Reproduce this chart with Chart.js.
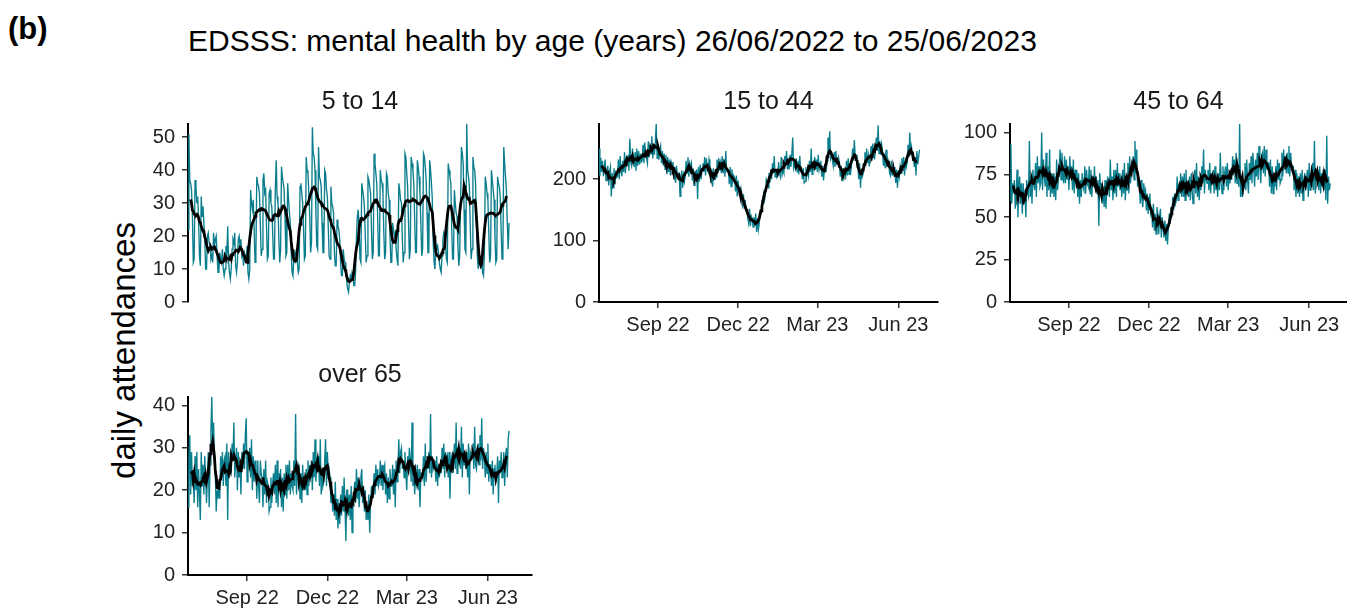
<!DOCTYPE html>
<html>
<head>
<meta charset="utf-8">
<title>EDSSS: mental health by age</title>
<script src="https://cdn.jsdelivr.net/npm/chart.js@4.4.0/dist/chart.umd.min.js"></script>
<style>
  html, body { margin: 0; padding: 0; background: #fff; overflow: hidden; }
  #page { position: relative; width: 1347px; height: 610px; font-family: "Liberation Sans", Arial, sans-serif; }
  .txt { position: absolute; white-space: nowrap; line-height: 1; }
  canvas { position: absolute; }
</style>
</head>
<body>
<div id="page">
  <div class="txt" style="left:8px; top:13px; font-size:31px; font-weight:bold; color:#000;">(b)</div>
  <div class="txt" style="left:188px; top:26px; font-size:30px; color:#000;">EDSSS: mental health by age (years) 26/06/2022 to 25/06/2023</div>
  <div class="txt" style="left:-77px; top:334px; width:400px; text-align:center; font-size:33px; color:#000; transform:rotate(-90deg);">daily attendances</div>
</div>
<script>
// age bands, one panel each
const ageGroups = ['5 to 14', '15 to 44', '45 to 64', 'over 65'];

// first day of the series, axis ticks at the start of each quarter
const startDate = '2022-06-26';
const xTickDates = ['2022-09-01', '2022-12-01', '2023-03-01', '2023-06-01'];
const xTickLabels = ['Sep 22', 'Dec 22', 'Mar 23', 'Jun 23'];

const yTicks5to14 = [0, 10, 20, 30, 40, 50];
const yTicks15to44 = [0, 100, 200];
const yTicks45to64 = [0, 25, 50, 75, 100];
const yTicksOver65 = [0, 10, 20, 30, 40];

// daily attendances, one row per week (Sun..Sat), 26/06/2022 to 25/06/2023
const daily5to14 = [
  22, 51, 37, 36, 34, 26, 12,
  13, 37, 35, 30, 32, 25, 14,
  11, 32, 26, 29, 24, 19, 10,
  10, 20, 21, 18, 17, 13, 14,
  12, 21, 17, 19, 20, 14, 9,
  9, 15, 13, 12, 16, 10, 8,
  10, 17, 14, 23, 12, 9, 7,
  10, 16, 19, 18, 21, 11, 9,
  12, 19, 20, 17, 19, 14, 15,
  11, 15, 14, 12, 17, 9, 7,
  10, 34, 30, 28, 31, 22, 12,
  15, 38, 36, 35, 33, 24, 14,
  16, 37, 39, 33, 34, 23, 13,
  14, 33, 34, 30, 29, 21, 13,
  13, 34, 43, 32, 30, 19, 12,
  16, 41, 38, 36, 34, 25, 14,
  15, 36, 31, 27, 24, 15, 9,
  8, 14, 15, 13, 16, 12, 9,
  10, 35, 36, 33, 30, 22, 13,
  14, 44, 40, 39, 33, 26, 15,
  18, 53, 45, 44, 40, 27, 17,
  16, 47, 38, 37, 35, 24, 15,
  15, 40, 39, 34, 32, 23, 14,
  13, 35, 30, 29, 27, 15, 11,
  11, 25, 23, 22, 19, 12, 8,
  8, 16, 13, 12, 10, 6, 4,
  3, 6, 8, 7, 9, 8, 5,
  5, 9, 20, 26, 28, 22, 13,
  12, 36, 34, 32, 29, 20, 12,
  14, 38, 37, 35, 33, 22, 13,
  15, 45, 42, 39, 36, 26, 14,
  14, 40, 37, 36, 33, 21, 13,
  15, 39, 38, 33, 31, 20, 12,
  12, 24, 22, 20, 21, 16, 13,
  11, 36, 34, 31, 30, 19, 12,
  15, 45, 44, 39, 35, 24, 13,
  16, 44, 42, 40, 36, 25, 15,
  15, 43, 41, 38, 33, 24, 14,
  16, 45, 44, 41, 37, 27, 15,
  15, 43, 40, 36, 31, 18, 12,
  10, 18, 16, 17, 15, 12, 10,
  9, 14, 19, 21, 20, 17, 13,
  12, 42, 40, 38, 36, 22, 13,
  13, 34, 30, 27, 26, 17, 11,
  14, 30, 47, 45, 42, 28, 16,
  15, 54, 40, 38, 35, 23, 13,
  16, 44, 41, 40, 36, 25, 14,
  10, 14, 12, 11, 13, 9, 8,
  14, 38, 36, 33, 31, 21, 12,
  14, 40, 37, 34, 31, 20, 12,
  13, 38, 36, 35, 32, 22, 13,
  15, 47, 42, 38, 34, 24, 16,
  24
];

const daily15to44 = [
  250, 205, 235, 212, 230, 205, 218,
  232, 198, 206, 222, 190, 212, 220,
  172, 210, 186, 218, 192, 214, 203,
  205, 232, 200, 238, 214, 205, 230,
  212, 244, 210, 236, 222, 240, 214,
  266, 228, 222, 250, 232, 220, 244,
  214, 250, 222, 246, 224, 242, 228,
  230, 256, 226, 260, 238, 234, 226,
  262, 236, 256, 240, 270, 234, 252,
  240, 262, 290, 234, 252, 232, 246,
  254, 226, 246, 222, 242, 216, 240,
  208, 236, 212, 232, 206, 228, 222,
  228, 200, 220, 194, 222, 206, 210,
  210, 172, 202, 214, 186, 206, 196,
  206, 230, 210, 236, 204, 226, 220,
  226, 198, 218, 190, 214, 200, 216,
  168, 220, 196, 224, 200, 216, 226,
  212, 236, 206, 234, 216, 212, 232,
  222, 194, 216, 188, 218, 200, 200,
  204, 232, 210, 234, 214, 226, 210,
  238, 210, 232, 204, 246, 214, 216,
  214, 192, 220, 188, 216, 198, 206,
  202, 180, 206, 172, 198, 184, 182,
  186, 166, 158, 176, 152, 166, 151,
  150, 136, 128, 152, 124, 140, 136,
  122, 138, 124, 144, 114, 136, 118,
  128, 148, 146, 164, 162, 176, 166,
  176, 200, 196, 186, 210, 196, 214,
  200, 226, 210, 238, 204, 214, 203,
  206, 228, 210, 204, 236, 208, 215,
  210, 238, 224, 246, 216, 228, 216,
  240, 220, 242, 268, 218, 224, 218,
  234, 212, 230, 208, 238, 216, 215,
  200, 218, 194, 196, 220, 206, 216,
  206, 230, 212, 250, 208, 226, 215,
  236, 216, 232, 212, 240, 216, 226,
  230, 204, 222, 198, 216, 212, 213,
  230, 268, 240, 278, 234, 240, 232,
  222, 244, 220, 246, 226, 230, 236,
  226, 204, 222, 198, 218, 210, 214,
  200, 230, 206, 234, 208, 222, 213,
  226, 250, 230, 264, 236, 232, 240,
  220, 200, 226, 186, 216, 204, 209,
  220, 244, 224, 250, 226, 238, 221,
  234, 254, 230, 258, 236, 234, 248,
  268, 246, 288, 242, 262, 240, 257,
  246, 222, 242, 218, 248, 226, 233,
  228, 210, 206, 230, 206, 220, 207,
  220, 194, 216, 186, 214, 204, 221,
  210, 234, 214, 236, 206, 228, 220,
  228, 256, 236, 276, 240, 252, 237,
  240, 220, 236, 206, 246, 224, 236,
  248
];

const daily45to64 = [
  60, 93, 58, 70, 64, 72, 55,
  62, 78, 50, 68, 74, 58, 70,
  52, 70, 58, 66, 50, 72, 64,
  62, 95, 62, 74, 58, 78, 70,
  66, 82, 62, 86, 70, 80, 68,
  70, 100, 66, 84, 74, 68, 88,
  62, 80, 66, 90, 62, 76, 64,
  76, 62, 74, 60, 84, 66, 72,
  80, 90, 72, 88, 76, 70, 86,
  70, 84, 72, 80, 66, 86, 74,
  80, 66, 84, 64, 78, 70, 78,
  62, 76, 58, 72, 62, 76, 68,
  66, 80, 64, 78, 70, 68, 80,
  64, 78, 62, 74, 68, 80, 66,
  74, 64, 72, 45, 76, 66, 70,
  58, 68, 56, 72, 55, 66, 74,
  70, 62, 84, 66, 74, 60, 78,
  64, 78, 62, 82, 68, 76, 66,
  74, 62, 78, 64, 82, 60, 72,
  66, 82, 64, 86, 70, 78, 80,
  86, 72, 95, 76, 90, 68, 74,
  70, 58, 72, 60, 56, 70, 64,
  66, 54, 64, 52, 62, 64, 52,
  54, 44, 58, 42, 52, 40, 56,
  52, 40, 50, 55, 38, 50, 44,
  38, 48, 36, 46, 34, 44, 52,
  46, 56, 50, 62, 54, 64, 58,
  60, 74, 60, 70, 64, 76, 62,
  74, 62, 76, 60, 78, 66, 68,
  62, 74, 60, 76, 66, 58, 74,
  78, 64, 82, 62, 74, 60, 70,
  66, 80, 70, 90, 64, 78, 72,
  70, 78, 66, 82, 64, 76, 72,
  78, 64, 80, 66, 74, 62, 76,
  66, 88, 70, 64, 80, 66, 76,
  80, 68, 82, 66, 76, 70, 78,
  72, 86, 76, 84, 70, 88, 70,
  80, 68, 105, 62, 70, 62, 66,
  68, 82, 66, 84, 72, 64, 82,
  72, 86, 70, 88, 80, 68, 84,
  74, 88, 72, 92, 80, 70, 86,
  88, 76, 92, 74, 90, 78, 82,
  82, 68, 84, 64, 80, 64, 76,
  68, 80, 66, 84, 72, 82, 70,
  72, 88, 74, 90, 78, 86, 76,
  88, 76, 92, 74, 88, 80, 80,
  80, 66, 78, 62, 76, 64, 74,
  62, 76, 64, 78, 60, 72, 76,
  66, 72, 78, 62, 82, 66, 74,
  68, 82, 66, 95, 64, 78, 74,
  78, 66, 80, 64, 76, 68, 78,
  66, 78, 60, 98, 58, 74, 66,
  70
];

const dailyOver65 = [
  16, 27, 33, 19, 29, 21, 23,
  17, 28, 20, 29, 16, 25, 19,
  13, 29, 21, 26, 19, 28, 23,
  17, 23, 29, 16, 26, 34, 42,
  30, 36, 28, 24, 15, 20, 18,
  21, 18, 28, 23, 29, 21, 27,
  28, 21, 31, 13, 29, 23, 26,
  24, 31, 27, 36, 23, 27, 30,
  20, 29, 23, 27, 19, 29, 25,
  31, 25, 33, 37, 22, 29, 27,
  30, 23, 32, 20, 28, 22, 27,
  25, 18, 27, 21, 17, 27, 24,
  23, 16, 25, 19, 27, 17, 22,
  21, 15, 16, 23, 17, 22, 24,
  19, 26, 17, 27, 16, 24, 22,
  25, 16, 23, 15, 24, 19, 26,
  18, 26, 20, 27, 19, 24, 21,
  20, 27, 21, 38, 19, 25, 26,
  25, 18, 24, 17, 26, 20, 23,
  20, 25, 19, 27, 21, 26, 23,
  27, 20, 29, 23, 32, 22, 27,
  26, 28, 21, 32, 19, 24, 21,
  22, 27, 32, 21, 29, 24, 25,
  23, 17, 21, 15, 19, 14, 22,
  13, 18, 11, 17, 12, 19, 14,
  21, 15, 23, 16, 8, 20, 20,
  14, 19, 13, 21, 10, 17, 19,
  22, 17, 25, 18, 23, 16, 20,
  23, 25, 17, 21, 15, 20, 13,
  16, 13, 19, 10, 17, 21, 18,
  20, 24, 19, 26, 21, 25, 21,
  22, 27, 21, 26, 20, 25, 26,
  19, 24, 17, 23, 18, 25, 21,
  21, 26, 19, 25, 16, 27, 22,
  25, 32, 24, 29, 30, 25, 27,
  23, 29, 24, 20, 28, 25, 30,
  27, 22, 36, 21, 26, 19, 25,
  21, 26, 20, 25, 16, 24, 24,
  23, 28, 21, 31, 22, 27, 25,
  29, 24, 38, 23, 28, 25, 26,
  27, 22, 28, 21, 26, 23, 26,
  24, 30, 25, 31, 23, 29, 27,
  28, 23, 29, 18, 27, 28, 24,
  26, 31, 25, 36, 24, 29, 28,
  30, 25, 35, 23, 31, 26, 29,
  25, 29, 23, 31, 19, 29, 28,
  29, 31, 25, 35, 26, 25, 28,
  31, 26, 33, 27, 37, 25, 30,
  28, 23, 29, 24, 31, 22, 26,
  26, 21, 27, 19, 25, 26, 22,
  23, 28, 17, 27, 24, 29, 23,
  24, 29, 21, 28, 30, 23, 32,
  34
];

// centred rolling mean window (days)
const MA_DAYS = 7;

const TEAL = '#0b7e8e';
const FONT = '"Liberation Sans", Arial, sans-serif';
const PLOT_H = 178;
const Y_AXIS_W = 60;
const X_AXIS_H = 40;
const PAD = 22;

function dayOffset(iso) {
  return Math.round((Date.parse(iso) - Date.parse(startDate)) / 864e5);
}

function rollingMean(values, n) {
  const half = Math.floor(n / 2);
  return values.map((_, i) => {
    if (i < half || i + half >= values.length) return null;
    let sum = 0;
    for (let j = i - half; j <= i + half; j++) sum += values[j];
    return sum / n;
  });
}

const xTickDays = xTickDates.map(dayOffset);

const panels = [
  { name: ageGroups[0], daily: daily5to14, yTicks: yTicks5to14, left: 188, top: 124, width: 344, xEnd: 390, xAxis: false },
  { name: ageGroups[1], daily: daily15to44, yTicks: yTicks15to44, left: 599, top: 124, width: 339, xEnd: 385, xAxis: true },
  { name: ageGroups[2], daily: daily45to64, yTicks: yTicks45to64, left: 1010, top: 124, width: 337, xEnd: 383, xAxis: true },
  { name: ageGroups[3], daily: dailyOver65, yTicks: yTicksOver65, left: 188, top: 397, width: 344, xEnd: 390, xAxis: true }
];

const page = document.getElementById('page');

panels.forEach(p => {
  const w = Y_AXIS_W + p.width + 8;
  const h = PAD + PLOT_H + (p.xAxis ? X_AXIS_H : PAD);
  const canvas = document.createElement('canvas');
  canvas.width = w;
  canvas.height = h;
  canvas.style.width = w + 'px';
  canvas.style.height = h + 'px';
  canvas.style.left = (p.left - Y_AXIS_W) + 'px';
  canvas.style.top = (p.top - PAD) + 'px';
  page.appendChild(canvas);

  // panel strip label, centred over the plot area
  const label = document.createElement('div');
  label.className = 'txt';
  label.textContent = p.name;
  label.style.fontSize = '25px';
  label.style.color = '#1a1a1a';
  label.style.left = (p.left + p.width / 2) + 'px';
  label.style.top = (p.top - 36) + 'px';
  label.style.transform = 'translateX(-50%)';
  page.appendChild(label);

  const dailyPts = p.daily.map((v, i) => ({ x: i, y: v }));
  const maPts = rollingMean(p.daily, MA_DAYS).map((v, i) => ({ x: i, y: v }));

  const tickFont = { family: FONT, size: 20 };
  const axisGrid = { display: true, drawOnChartArea: false, drawTicks: true, tickLength: 6, tickColor: '#333', tickWidth: 1.5, lineWidth: 1.5 };
  const axisBorder = { display: true, color: '#000', width: 2 };

  new Chart(canvas, {
    type: 'line',
    data: {
      datasets: [
        { data: maPts, borderColor: '#000', borderWidth: 2.8, pointRadius: 0, order: 0, spanGaps: false },
        { data: dailyPts, borderColor: TEAL, borderWidth: 1.35, pointRadius: 0, order: 1 }
      ]
    },
    options: {
      responsive: false,
      animation: false,
      events: [],
      layout: { padding: { top: PAD, right: 8, bottom: p.xAxis ? 0 : PAD, left: 0 } },
      plugins: { legend: { display: false }, tooltip: { enabled: false }, title: { display: false } },
      scales: {
        x: {
          type: 'linear',
          display: p.xAxis,
          min: 0,
          max: p.xEnd,
          afterBuildTicks: s => { s.ticks = xTickDays.map(v => ({ value: v })); },
          afterFit: s => { if (p.xAxis) s.height = X_AXIS_H; },
          ticks: { autoSkip: false, maxRotation: 0, padding: 5, color: '#222', font: tickFont, callback: (v, i) => xTickLabels[i] },
          grid: axisGrid,
          border: axisBorder
        },
        y: {
          min: 0,
          max: Math.max(...p.daily),
          afterBuildTicks: s => { s.ticks = p.yTicks.map(v => ({ value: v })); },
          afterFit: s => { s.width = Y_AXIS_W; },
          ticks: { autoSkip: false, padding: 7, color: '#222', font: tickFont },
          grid: axisGrid,
          border: axisBorder
        }
      }
    }
  });
});
</script>
</body>
</html>
